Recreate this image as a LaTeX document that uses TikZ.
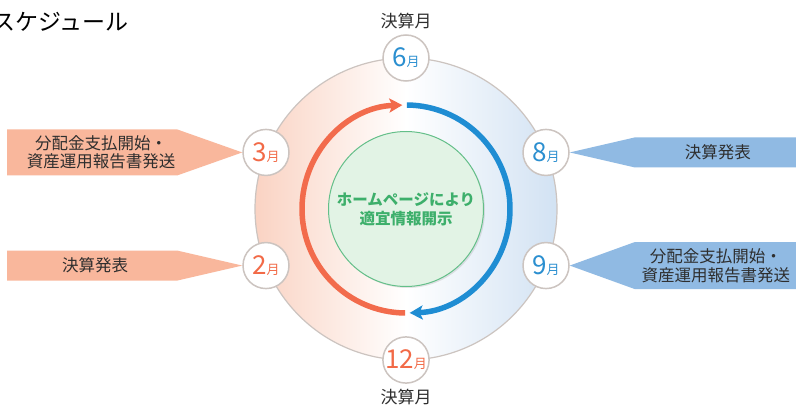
\documentclass[tikz,border=0pt]{standalone}
\usepackage{fontspec}
\setmainfont{Noto Sans CJK JP}
\usepackage{tikz}
\usetikzlibrary{shapes,arrows,arrows.meta,positioning,shadows}
\definecolor{flagorange}{HTML}{F9B79C}
\definecolor{flagblue}{HTML}{90BAE3}
\definecolor{arroworange}{HTML}{F26B4C}
\definecolor{arrowblue}{HTML}{1F8DD3}
\definecolor{digitorange}{HTML}{F26A47}
\definecolor{digitblue}{HTML}{2B8FD0}
\definecolor{diskorange}{HTML}{FAD3C3}
\definecolor{diskblue}{HTML}{D2E2F3}
\definecolor{ringgray}{HTML}{CCC4C0}
\definecolor{infogreen}{HTML}{3DAF6B}
\definecolor{infofill}{HTML}{E2F3E5}
\definecolor{textgray}{HTML}{2E2E2E}
\newcommand{\monthtext}[2]{\textcolor{#1}{\fontsize{26}{26}\selectfont #2\fontsize{13}{13}\selectfont 月}}

\begin{document}
\begin{tikzpicture}[x=1pt,y=1pt,>=stealth',node distance=2pt,
	month node/.style={draw=ringgray, line width=1.5pt, fill=white, circle, minimum size=46pt, inner sep=0pt},
	disk node/.style={draw=ringgray, line width=1.2pt, circle, minimum size=302pt, left color=diskorange, right color=diskblue, middle color=white},
	info node/.style={draw=infogreen!80, line width=1pt, fill=infofill, circle, minimum size=155pt, align=center, text=infogreen, font=\fontsize{15.5}{19}\selectfont\bfseries, drop shadow={shadow xshift=1.5pt, shadow yshift=-1.5pt, opacity=.2}},
	banner text/.style={text=textgray, align=center, font=\fontsize{16.5}{18.5}\selectfont},
	cycle arrow/.style={line width=5.5pt, -{Stealth[length=13pt,width=14pt,inset=3pt]}}]
			\useasboundingbox (0,0) rectangle (796,408);
			\fill[white] (0,0) rectangle (796,408);
			
			\node[anchor=east, inner sep=0pt, font=\fontsize{23}{23}\selectfont] (title) at (129,386) {スケジュール};
			
			\coordinate (O) at (406,199);
			\node[disk node] (disk) at (O) {};
			\node[info node] (hp) at (O) {ホームページにより\\適宜情報開示};
			
			\draw[cycle arrow, arroworange] ([shift={(269.5:104)}]O) arc[start angle=269.5, end angle=92, radius=104];
			\draw[cycle arrow, arrowblue] ([shift={(89.5:104)}]O) arc[start angle=89.5, end angle=-88, radius=104];
			
			\node[month node] (6) at ([shift={(90:151)}]O) {\monthtext{digitblue}{6}};
			\node[month node] (8) at ([shift={(22:151)}]O) {\monthtext{digitblue}{8}};
			\node[month node] (9) at ([shift={(-22:151)}]O) {\monthtext{digitblue}{9}};
			\node[month node] (12) at ([shift={(270:151)}]O) {\monthtext{digitorange}{12}};
			\node[month node] (2) at ([shift={(202:151)}]O) {\monthtext{digitorange}{2}};
			\node[month node] (3) at ([shift={(158:151)}]O) {\monthtext{digitorange}{3}};
			
			\node[text=textgray, font=\fontsize{17}{17}\selectfont] (top) [above=of 6] {決算月};
			\node[text=textgray, font=\fontsize{17}{17}\selectfont] (bottom) [below=of 12] {決算月};
			
			% banners
			\fill[flagorange] (3.west) -- ++(-65,23) -- ++(-170,0) -- ++(0,-46) -- ++(170,0) -- cycle;
			\fill[flagorange] (2.west) -- ++(-65,15) -- ++(-170,0) -- ++(0,-30) -- ++(170,0) -- cycle;
			\fill[flagblue] (8.east) -- ++(65,15) -- ++(170,0) -- ++(0,-30) -- ++(-170,0) -- cycle;
			\fill[flagblue] (9.east) -- ++(65,23.5) -- ++(170,0) -- ++(0,-47) -- ++(-170,0) -- cycle;
			
			\node[banner text, xshift=-141pt] (t3) at (3.west) {分配金支払開始・\\資産運用報告書発送};
			\node[banner text, xshift=-147pt] (t2) at (2.west) {決算発表};
			\node[banner text, xshift=148pt] (t8) at (8.east) {決算発表};
			\node[banner text, xshift=146pt] (t9) at (9.east) {分配金支払開始・\\資産運用報告書発送};
			
			\end{tikzpicture}
\end{document}
